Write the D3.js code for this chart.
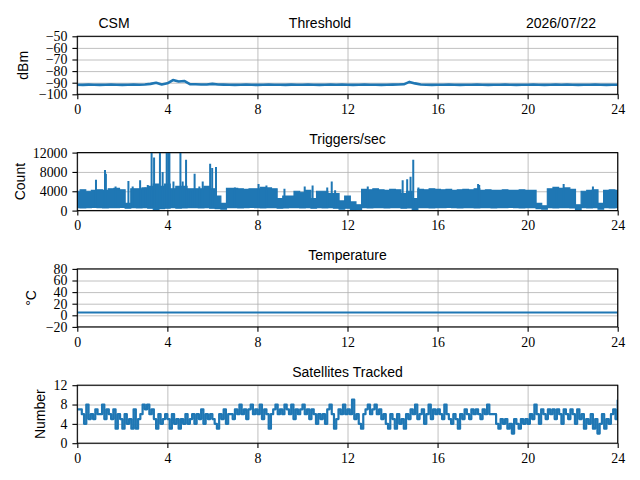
<!DOCTYPE html>
<html>
<head>
<meta charset="utf-8">
<script src="https://cdn.jsdelivr.net/npm/d3@7"></script>
<style>
body { margin: 0; background: #fff; }
</style>
</head>
<body>
<svg id="chart" width="640" height="480"></svg>
<script>

// ---- data ----
var hourTicks = [0, 4, 8, 12, 16, 20, 24];

// threshold, every 15 min
var thresholdDbm = [
  -91.8,-91.9,-91.7,-91.8,-91.9,-91.8,-91.7,-91.8,-91.9,-91.8,-91.6,-91.8,-91.5,-91.0,
  -90.0,-91.5,-90.5,-87.7,-89.0,-88.5,-91.2,-91.3,-91.5,-91.6,-91.0,-91.5,
  -91.7,-91.8,-91.9,-91.8,-91.7,-91.8,-91.9,-91.8,-91.7,-91.8,-91.8,-91.9,-91.7,-91.8,
  -91.8,-91.7,-91.8,-91.9,-91.8,-91.6,-91.8,-91.7,-91.8,-91.9,-91.8,-91.7,-91.8,-91.8,
  -91.9,-91.8,-91.7,-91.6,-91.4,-89.3,-90.6,-91.6,
  -91.8,-91.9,-91.8,-91.8,-91.7,-91.8,-91.9,-91.8,-91.8,-91.7,-91.8,-91.9,-91.8,-91.8,
  -91.7,-91.8,-91.9,-91.8,-91.8,-91.7,-91.8,-91.9,-91.8,-91.6,-91.8,-91.7,-91.8,-91.9,
  -91.8,-91.8,-91.7,-91.8,-91.9,-91.8,-91.8
];
var thresholdTicks = [-100, -90, -80, -70, -60, -50];

// triggers per second: band top / bottom every 15 min, plus the tall spikes
var triggerHigh = [
  4000,4300,4000,4200,4300,4200,4500,4600,4300,1500,4500,4500,4700,5000,5500,5000,
  5500,4500,5000,5000,4500,4500,4500,5000,4500,3000,1500,4600,4600,4500,4400,4500,
  4500,4800,4700,4500,2500,3000,3000,4000,3800,4200,2500,4000,4000,3500,3500,2000,
  3000,1800,1200,4400,4300,4500,4300,4200,4400,4300,3500,4000,2500,4400,
  4300,4500,4400,4300,4400,4200,4300,4400,4300,4500,
  4200,4300,4200,4200,4300,4200,4200,4300,4200,4200,
  1500,1000,4500,4800,4600,4700,4400,1200,4000,4200,4300,1500,4200,4300,4200
];
var triggerLow = [
  600,550,600,650,600,550,600,600,650,500,600,550,600,500,0,400,
  500,600,500,550,600,600,550,600,500,400,300,600,600,550,600,650,
  600,550,600,600,500,550,600,600,550,600,500,600,550,600,500,300,
  500,0,200,600,550,600,600,550,600,600,500,550,0,600,
  600,550,600,600,650,600,550,600,600,550,
  600,600,550,600,600,650,600,550,600,600,
  400,300,600,550,600,600,550,0,600,550,600,300,600,550,600
];
var spikeHours = [
  0.83,1.23,1.27,1.7,2.27,2.46,2.79,3.02,3.13,3.3,3.41,3.67,3.79,3.97,4.04,4.09,4.27,
  4.58,4.68,4.83,5.04,5.21,5.42,5.57,5.9,5.99,6.16,7.0,8.05,8.4,9.2,10.1,10.45,
  11.1,11.3,11.45,12.9,14.45,14.65,14.8,14.92,15.15,17.8,17.85,21.3,21.6,22.9
];
var spikeCounts = [
  6400,8400,7600,5000,6100,5000,6300,4800,5300,12000,11000,12000,8000,12000,12000,12000,6000,
  12000,6000,10500,4000,7600,5000,6000,9700,8800,9000,4800,5500,5200,4500,5000,5200,
  4800,6000,4200,5000,6300,6500,7000,10500,4800,5500,5300,4800,5500,5000
];
var triggerTicks = [0, 4000, 8000, 12000];

// temperature, hourly
var temperatureC = [5,5,5,5,5,5,5,5,5,5,5,5,5,5,5,5,5,5,5,5,5,5,5,5,5];
var temperatureTicks = [-20, 0, 20, 40, 60, 80];

// satellites tracked, every 6 min
var satellites = [
  7,7,6,4,8,5,6,5,7,6,
  6,8,5,7,6,5,7,3,6,5,
  3,6,4,5,3,7,3,5,6,8,
  7,8,6,7,5,3,6,4,5,6,
  5,3,6,4,5,3,5,4,6,4,
  5,6,4,6,5,7,4,6,5,6,
  5,4,3,6,5,7,4,6,6,5,
  7,6,8,6,7,5,7,8,6,7,
  6,8,5,7,6,3,6,7,8,6,
  7,6,8,7,6,8,5,7,6,7,
  8,6,7,5,7,6,4,6,5,6,
  4,7,8,6,3,5,7,6,8,6,
  7,6,9,5,6,4,3,6,7,8,
  6,7,8,6,7,5,6,4,3,6,
  5,3,6,4,5,3,6,5,7,6,
  8,5,6,7,4,6,8,5,7,6,
  7,6,5,8,6,5,4,6,5,3,
  6,5,7,6,5,7,6,7,6,5,
  7,6,8,6,6,6,4,3,5,4,
  5,3,4,2,5,4,3,5,4,5,
  4,6,5,8,6,4,7,6,5,7,
  6,7,5,7,6,4,7,6,5,7,
  6,4,7,5,6,3,5,4,6,3,
  5,2,4,6,3,5,4,6,7,5,
  9
];
var satelliteTicks = [0, 4, 8, 12];

// ---- layout ----
var svg = d3.select("#chart");
var color = "#1f77b4";
var sans = '"Liberation Sans", Arial, sans-serif';
var serif = '"Liberation Serif", "DejaVu Serif", serif';
var left = 77.3, plotW = 540.4, plotH = 58;
var tops = [36.3, 152.6, 268.9, 385.2];

var x = d3.scaleLinear().domain([0, 24]).range([0, plotW]);

function series(vals, stepH) {
  return vals.map(function(v, i) { return [i * stepH, v]; });
}

var panels = [
  {title: "Threshold", titleX: 320 - left, label: "dBm", labelX: 23, domain: [-100, -50], ticks: thresholdTicks,
   lines: [{pts: series(thresholdDbm, 0.25), w: 2.6, curve: d3.curveLinear}]},
  {title: "Triggers/sec", label: "Count", labelX: 20, domain: [0, 12000], ticks: triggerTicks},
  {title: "Temperature", label: "\u00b0C", labelX: 31, domain: [-20, 80], ticks: temperatureTicks,
   lines: [{pts: series(temperatureC, 1), w: 2, curve: d3.curveLinear}]},
  {title: "Satellites Tracked", label: "Number", labelX: 40, domain: [0, 12], ticks: satelliteTicks,
   lines: [{pts: series(satellites, 0.1), w: 2.2, curve: d3.curveStepAfter}]}
];

panels.forEach(function(p, k) {
  var g = svg.append("g").attr("transform", "translate(" + left + "," + tops[k] + ")");
  var y = d3.scaleLinear().domain(p.domain).range([plotH, 0]);

  g.append("clipPath").attr("id", "clip" + k)
    .append("rect").attr("width", plotW).attr("height", plotH);

  // grid
  g.append("g").attr("class", "grid")
    .call(d3.axisBottom(x).tickValues(hourTicks).tickSize(plotH).tickFormat(""))
    .call(function(s) { s.select(".domain").remove(); });
  g.append("g").attr("class", "grid")
    .call(d3.axisLeft(y).tickValues(p.ticks).tickSize(-plotW).tickFormat(""))
    .call(function(s) { s.select(".domain").remove(); });
  g.selectAll(".grid line").attr("stroke", "#b0b0b0").attr("stroke-width", 0.8);

  var plot = g.append("g").attr("clip-path", "url(#clip" + k + ")");

  if (k === 1) {
    var band = triggerHigh.map(function(v, i) { return [i * 0.25, triggerLow[i], v]; });
    plot.append("path").datum(band)
      .attr("fill", color).attr("stroke", color).attr("stroke-width", 1.2)
      .attr("d", d3.area().curve(d3.curveStep)
        .x(function(d) { return x(d[0]); })
        .y0(function(d) { return y(d[1]); })
        .y1(function(d) { return y(d[2]); }));
    var vline = d3.line().x(function(d) { return x(d[0]); }).y(function(d) { return y(d[1]); });
    plot.selectAll(".spike").data(spikeHours).enter().append("path")
      .attr("class", "spike")
      .attr("fill", "none").attr("stroke", color).attr("stroke-width", 2)
      .attr("d", function(h, i) { return vline([[h, 600], [h, spikeCounts[i]]]); });
  } else {
    p.lines.forEach(function(l) {
      var line = d3.line().curve(l.curve)
        .x(function(d) { return x(d[0]); }).y(function(d) { return y(d[1]); });
      plot.append("path").datum(l.pts)
        .attr("fill", "none").attr("stroke", color).attr("stroke-width", l.w)
        .attr("stroke-linejoin", "round")
        .attr("d", line);
    });
  }

  // axes + spines
  var xa = g.append("g").attr("transform", "translate(0," + plotH + ")")
    .call(d3.axisBottom(x).tickValues(hourTicks).tickSize(4.9).tickPadding(4.9).tickFormat(d3.format("d")));
  var ya = g.append("g")
    .call(d3.axisLeft(y).tickValues(p.ticks).tickSize(4.9).tickPadding(4.9).tickFormat(d3.format("d")));
  [xa, ya].forEach(function(a) {
    a.select(".domain").remove();
    a.selectAll(".tick line").attr("stroke", "#000").attr("stroke-width", 1.1);
    a.selectAll(".tick text").style("font-family", serif).style("font-size", "13.9px").attr("fill", "#000");
  });
  g.append("rect").attr("width", plotW).attr("height", plotH)
    .attr("fill", "none").attr("stroke", "#000").attr("stroke-width", 1.1);

  g.append("text").attr("x", p.titleX !== undefined ? p.titleX : plotW / 2).attr("y", -8.5)
    .style("font-family", sans).style("font-size", "14px")
    .attr("text-anchor", "middle").text(p.title);
  svg.append("text")
    .style("font-family", sans).style("font-size", "14px")
    .attr("transform", "translate(" + p.labelX + "," + (tops[k] + plotH / 2) + ") rotate(-90)")
    .attr("text-anchor", "middle").attr("dy", "0.35em").text(p.label);
});

svg.append("text").attr("x", 114).attr("y", 27.8)
  .style("font-family", sans).style("font-size", "14px")
  .attr("text-anchor", "middle").text("CSM");
svg.append("text").attr("x", 596).attr("y", 27.8)
  .style("font-family", sans).style("font-size", "14px")
  .attr("text-anchor", "end").text("2026/07/22");

</script>
</body>
</html>
